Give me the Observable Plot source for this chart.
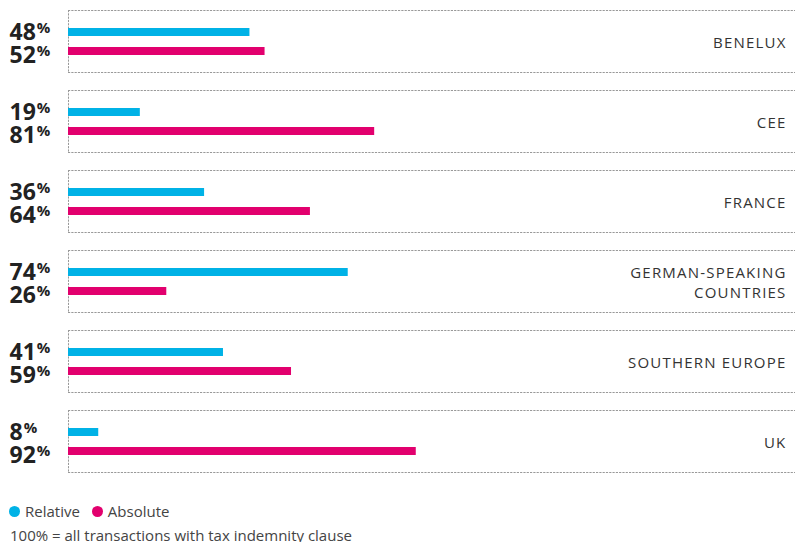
<!DOCTYPE html>
<html>
<head>
<meta charset="utf-8">
<script src="https://cdn.jsdelivr.net/npm/d3@7"></script>
<script src="https://cdn.jsdelivr.net/npm/@observablehq/plot@0.6"></script>
<style>
  html, body { margin: 0; padding: 0; background: #fff; }
  body { position: relative; width: 795px; height: 542px; overflow: hidden; font-family: "Open Sans", sans-serif; }
  #chart svg { display: block; }
  #legend { position: absolute; left: 9px; top: 500px; height: 22px; line-height: 22px; font-size: 15px; color: #444; display: flex; align-items: center; }
  #legend .item { display: flex; align-items: center; margin-right: 12px; }
  #legend .dot { width: 11px; height: 11px; border-radius: 50%; margin-right: 5px; }
  #caption { position: absolute; left: 10px; top: 524px; font-size: 15px; line-height: 22px; color: #444; white-space: nowrap; }
</style>
</head>
<body>
<div id="chart"></div>
<div id="legend"></div>
<div id="caption">100% = all transactions with tax indemnity clause</div>
<script>
// Share of transactions with a tax indemnity clause, by region
const regions = ["BENELUX", "CEE", "FRANCE", "GERMAN-SPEAKING\nCOUNTRIES", "SOUTHERN EUROPE", "UK"];
const relative = [48, 19, 36, 74, 41, 8];
const absolute = [52, 81, 64, 26, 59, 92];
const series = ["Relative", "Absolute"];
const colors = ["#00b2e6", "#e2006e"];

const rows = regions.flatMap((region, i) => [
  {region, series: "Relative", value: relative[i]},
  {region, series: "Absolute", value: absolute[i]}
]);

const dotted = {stroke: "#999", strokeWidth: 1, strokeDasharray: "1.2,2.1"};

// bold value with a raised, smaller percent sign
function valueLabels(name, dy) {
  return Plot.text(rows.filter(d => d.series === name), {
    fy: "region", y: "series", text: d => String(d.value),
    frameAnchor: "left", dx: -59, dy, textAnchor: "start",
    fontSize: 23, fontWeight: 700, fill: "#222",
    render(index, scales, values, dimensions, context, next) {
      const g = next(index, scales, values, dimensions, context);
      d3.select(g).selectAll("text").append("tspan")
        .attr("font-size", 15).attr("dx", 1).attr("dy", -7).text("%");
      return g;
    }
  });
}

const chart = Plot.plot({
  width: 795,
  height: 490,
  marginLeft: 68,
  marginRight: 0,
  marginTop: 10,
  marginBottom: 18,
  style: {fontFamily: "Open Sans, sans-serif", background: "#fff", overflow: "visible"},
  x: {domain: [0, 100], range: [68, 446], axis: null},
  y: {domain: series, paddingInner: 0.579, paddingOuter: 0.921, axis: null},
  fy: {domain: regions, paddingInner: 0.225, paddingOuter: 0, axis: null},
  color: {domain: series, range: colors},
  marks: [
    Plot.frame({anchor: "top", ...dotted}),
    Plot.frame({anchor: "bottom", ...dotted}),
    Plot.frame({anchor: "left", ...dotted}),
    Plot.barX(rows, {fy: "region", y: "series", x1: 0, x2: "value", fill: "series"}),
    valueLabels("Relative", 0),
    valueLabels("Absolute", 4),
    // region names
    Plot.text(regions, {
      fy: d => d, text: d => d,
      frameAnchor: "right", dx: -9, textAnchor: "end",
      fontSize: 15, lineHeight: 1.38, fill: "#333",
      render(index, scales, values, dimensions, context, next) {
        const g = next(index, scales, values, dimensions, context);
        g.setAttribute("letter-spacing", "1.2px");
        return g;
      }
    })
  ]
});
document.getElementById("chart").append(chart);

// legend
const legend = d3.select("#legend");
series.forEach((s, i) => {
  const item = legend.append("div").attr("class", "item");
  item.append("div").attr("class", "dot").style("background", colors[i]);
  item.append("span").text(s);
});
</script>
</body>
</html>
